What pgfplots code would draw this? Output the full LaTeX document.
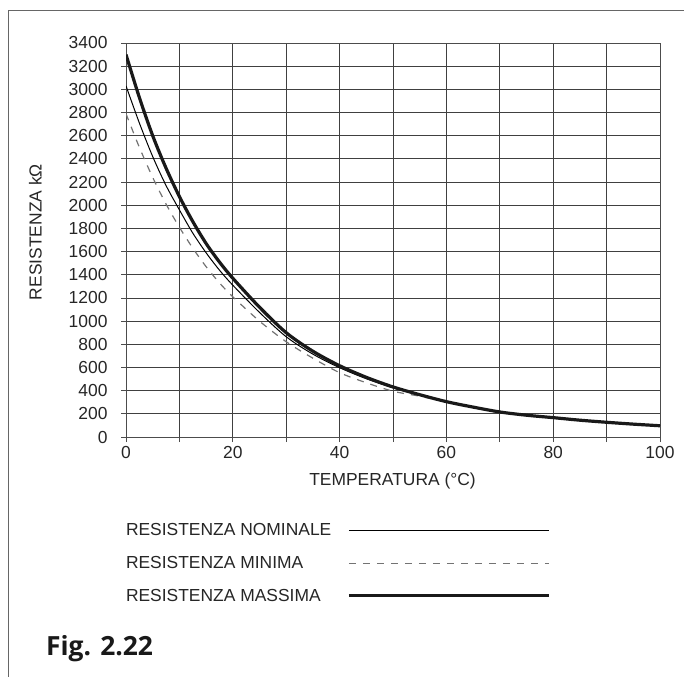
\documentclass[border=0pt]{standalone}
\usepackage{fontspec}
\setmainfont{Liberation Sans}
\newfontfamily\figfont{Open Sans}
\usepackage{pgfplots}
\pgfplotsset{compat=1.18}
\usepackage{pgfplotstable}

\pgfplotstableread{
T R
0 3030
2.5 2710
5 2420
7.5 2170
10 1960
12.5 1760
15 1590
17.5 1440
20 1310
25 1075
30 865
35 715
40 598
45 503
50 424
55 362
60 305
65 258
70 216
75 188
80 167
85 145
90 127
95 111
100 97
}\nominale

\pgfplotstableread{
T R
0 2790
2.5 2500
5 2240
7.5 2010
10 1810
12.5 1630
15 1470
17.5 1330
20 1210
25 1000
30 822
35 680
40 555
45 468
50 395
55 352
60 303
65 258
70 216
75 188
80 167
85 145
90 127
95 111
100 97
}\minima

\pgfplotstableread{
T R
0 3300
2.5 2930
5 2600
7.5 2320
10 2075
12.5 1860
15 1670
17.5 1510
20 1370
25 1120
30 900
35 740
40 615
45 515
50 432
55 365
60 305
65 258
70 216
75 188
80 167
85 145
90 127
95 111
100 97
}\massima

\begin{document}
\begin{tikzpicture}
\useasboundingbox (0,0) rectangle (684bp,677bp);
\draw[black!60, line width=1bp] (8.5bp,0) -- (8.5bp,666.5bp) -- (684bp,666.5bp);
\begin{axis}[
  at={(126bp,240bp)}, anchor=south west,
  scale only axis, width=534bp, height=394bp,
  xmin=0, xmax=100, ymin=0, ymax=3400,
  xtick={0,20,...,100},
  minor xtick={10,30,50,70,90},
  ytick={0,200,...,3400},
  grid=both,
  major grid style={black!75, line width=0.8bp},
  minor grid style={black!75, line width=0.8bp},
  axis line style={black!70, line width=0.8bp},
  tick pos=left, tick align=outside,
  major tick length=5bp, minor tick length=5bp,
  tick style={black!70, line width=0.8bp},
  /pgf/number format/assume math mode=true,
  /pgf/number format/1000 sep={},
  ticklabel style={font=\fontsize{17.5}{20}\selectfont, text=black!85},
  yticklabel style={xshift=-10bp},
  xticklabel style={yshift=-1bp},
  legend plot pos=right,
  legend cell align=left,
  legend image code/.code={\draw[#1] (0bp,0bp) -- (200bp,0bp);},
  legend style={at={(axis description cs:0,-0.22)}, anchor=north west,
    draw=none, fill=none, inner sep=0pt, outer sep=0pt,
    font=\fontsize{17.5}{20}\selectfont, text=black!85,
    nodes={inner sep=0pt}, row sep=19bp, column sep=16bp},
]
\addplot[black, line width=1bp, smooth] table[x=T, y=R] {\nominale};
\addlegendentry{RESISTENZA NOMINALE}
\addplot[black!55, line width=1.2bp, dash pattern=on 7bp off 7bp, smooth] table[x=T, y=R] {\minima};
\addlegendentry{RESISTENZA MINIMA}
\addplot[black!90, line width=3.2bp, smooth] table[x=T, y=R] {\massima};
\addlegendentry{RESISTENZA MASSIMA}
\end{axis}
\node[rotate=90, anchor=base, inner sep=0pt, font=\fontsize{17.5}{20}\selectfont, text=black!85] at (41.5bp,445bp) {RESISTENZA kΩ};
\node[anchor=base, inner sep=0pt, font=\fontsize{17.5}{20}\selectfont, text=black!85] at (392.5bp,191bp) {TEMPERATURA (°C)};
\node[anchor=base west, inner sep=0pt, font=\figfont\bfseries\fontsize{26.5}{30}\selectfont, text=black!90] at (46bp,22bp) {Fig. 2.22};
\end{tikzpicture}
\end{document}
